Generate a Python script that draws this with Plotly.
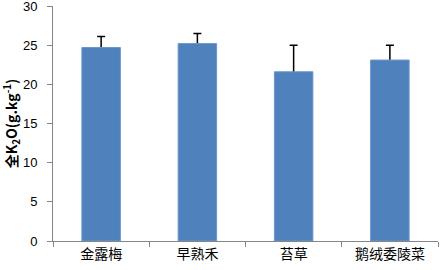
import plotly.graph_objects as go

categories = ["金露梅", "早熟禾", "苔草", "鹅绒委陵菜"]
values = [24.7, 25.2, 21.6, 23.1]
errors = [1.4, 1.3, 3.4, 1.9]
y_ticks = [0, 5, 10, 15, 20, 25, 30]

fig = go.Figure()
# error bars (symmetric) on the base axis; bars on an overlaying axis drawn on top hide the lower half
fig.add_trace(go.Scatter(
    x=categories, y=values, mode="markers",
    marker=dict(size=1, opacity=0),
    error_y=dict(type="data", array=errors, symmetric=True,
                 color="black", thickness=1.5, width=4),
    hoverinfo="skip",
))
fig.add_trace(go.Bar(
    x=categories, y=values, yaxis="y2",
    marker=dict(color="#4F81BD", line=dict(color="#6A96CC", width=1)),
    width=0.4,
))
fig.update_layout(
    width=440, height=270,
    margin=dict(l=53, r=2, t=6, b=29),
    plot_bgcolor="white", paper_bgcolor="white",
    showlegend=False,
    font=dict(family="Noto Sans CJK SC, Arial", color="black"),
    yaxis2=dict(overlaying="y", range=[0, 30], visible=False, showgrid=False, zeroline=False),
)
fig.update_xaxes(
    showline=True, linecolor="#868686", linewidth=1,
    ticks="outside", tickson="boundaries", ticklen=5, tickcolor="#868686",
    tickfont=dict(size=14, family="Noto Sans CJK SC"),
    showgrid=False, automargin=False,
)
fig.update_layout(yaxis=dict(
    range=[0, 30], tickvals=y_ticks,
    showline=True, linecolor="#868686", linewidth=1,
    ticks="outside", ticklen=5, tickcolor="#868686",
    tickfont=dict(size=13, family="Liberation Sans"),
    ticklabeloverflow="allow", ticklabelstandoff=7,
    showgrid=False, zeroline=False, automargin=False,
    title=dict(text="<b>全K<sub>2</sub>O(g.kg<sup>-1</sup>)</b>", font=dict(size=14), standoff=14),
))
fig.write_html("out.html", config={"displayModeBar": False},
               post_script="document.body.style.margin='0';")
